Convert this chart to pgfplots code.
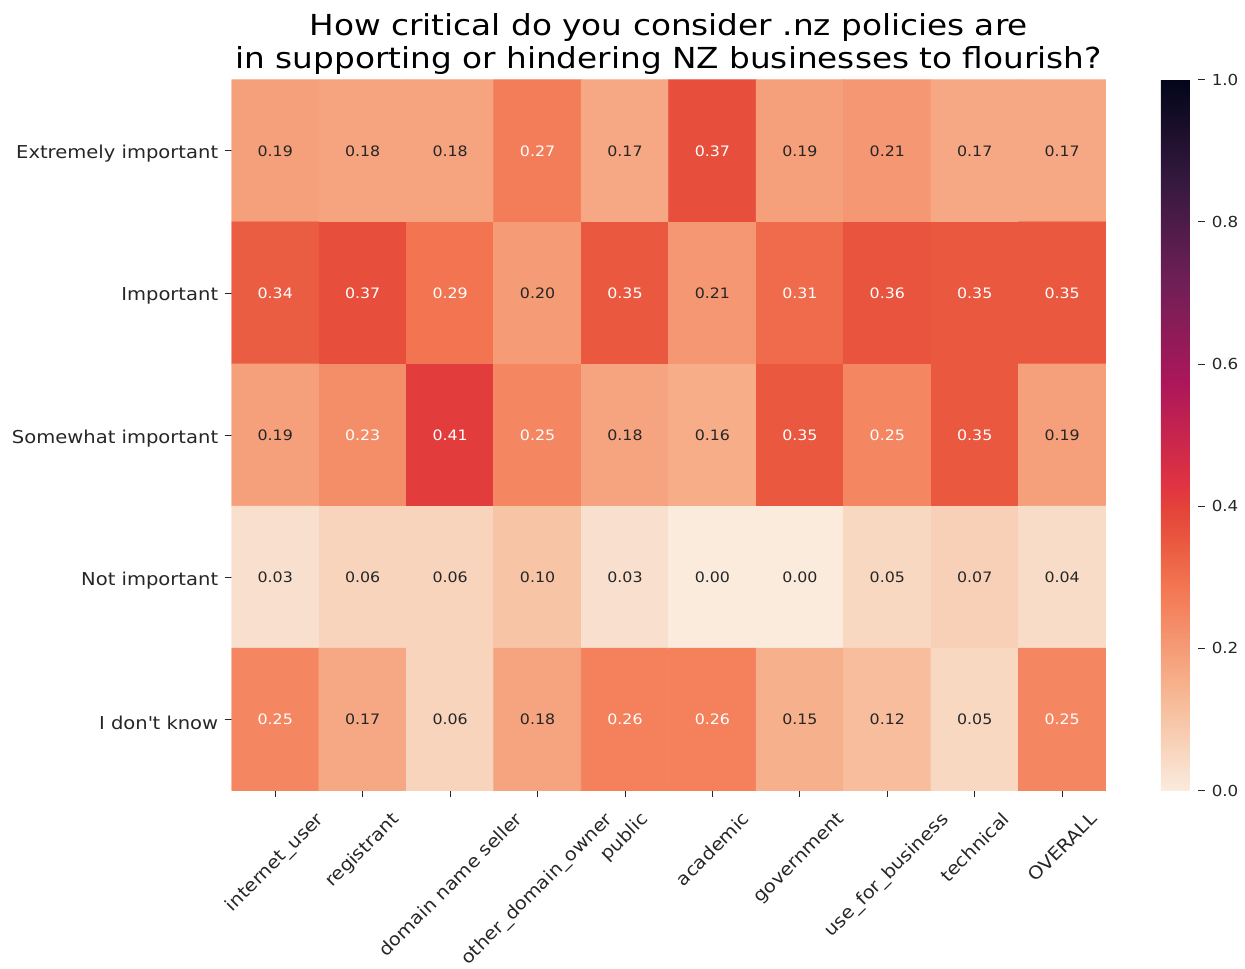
\documentclass[border=0pt]{standalone}
\usepackage{pgfplots}
\pgfplotsset{compat=1.18}
\usepackage{pgfplotstable}
\usepackage{graphicx}
\usepackage{fontspec}
\setmainfont{DejaVu Sans}[FakeStretch=1.1]
\newfontfamily\titlefamily{DejaVu Sans}[FakeStretch=1.13]
\definecolor{darktxt}{HTML}{262626}
\newcommand{\tickfont}{\fontsize{8.9}{10.7}\selectfont}
\newcommand{\cbfont}{\fontsize{7.6}{9.1}\selectfont}
\newcommand{\annfont}{\fontsize{7.2}{8.6}\selectfont}

% x = group (column), y = answer (row), v = share
\pgfplotstableread{
x y v
0 0 0.19
1 0 0.18
2 0 0.18
3 0 0.27
4 0 0.17
5 0 0.37
6 0 0.19
7 0 0.21
8 0 0.17
9 0 0.17
0 1 0.34
1 1 0.37
2 1 0.29
3 1 0.20
4 1 0.35
5 1 0.21
6 1 0.31
7 1 0.36
8 1 0.35
9 1 0.35
0 2 0.19
1 2 0.23
2 2 0.41
3 2 0.25
4 2 0.18
5 2 0.16
6 2 0.35
7 2 0.25
8 2 0.35
9 2 0.19
0 3 0.03
1 3 0.06
2 3 0.06
3 3 0.10
4 3 0.03
5 3 0.00
6 3 0.00
7 3 0.05
8 3 0.07
9 3 0.04
0 4 0.25
1 4 0.17
2 4 0.06
3 4 0.18
4 4 0.26
5 4 0.26
6 4 0.15
7 4 0.12
8 4 0.05
9 4 0.25
}\heat

\begin{document}
\begin{tikzpicture}
\begin{axis}[
  name=main,
  scale only axis, width=438pt, height=356pt,
  xmin=-0.5, xmax=9.5, ymin=-0.5, ymax=4.5,
  y dir=reverse,
  enlargelimits=false,
  axis line style={draw=none},
  tick align=outside,
  major tick length=3.5pt,
  tick style={color=darktxt, line width=0.5pt},
  xtick={0,...,9}, ytick={0,...,4},
  xtick pos=bottom, ytick pos=left,
  xticklabels={
    \rotatebox{45}{internet\_user},
    \rotatebox{45}{registrant},
    \rotatebox{45}{domain name seller},
    \rotatebox{45}{other\_domain\_owner},
    \rotatebox{45}{public},
    \rotatebox{45}{academic},
    \rotatebox{45}{government},
    \rotatebox{45}{use\_for\_business},
    \rotatebox{45}{technical},
    \rotatebox{45}{OVERALL}},
  yticklabels={Extremely important, Important, Somewhat important, Not important, I don\textquotesingle t know},
  xticklabel style={anchor=north, font=\tickfont, inner sep=0pt, yshift=-6.5pt, text=darktxt},
  yticklabel style={anchor=east, font=\tickfont, inner sep=0pt, xshift=-3pt, yshift=-1.5pt, text=darktxt},
  colormap={rocketr}{rgb255(0pt)=(250,235,221); rgb255(143pt)=(246,180,143); rgb255(286pt)=(243,118,81); rgb255(357pt)=(233,85,62); rgb255(400pt)=(227,66,57); rgb255(429pt)=(225,51,66); rgb255(571pt)=(173,23,89); rgb255(714pt)=(112,31,87); rgb255(857pt)=(53,25,62); rgb255(1000pt)=(3,5,26)},
  point meta min=0, point meta max=1,
  colorbar,
  colorbar style={
    at={(parent axis.north east)}, anchor=north west, xshift=19pt,
    scale only axis, width=18.5pt, height=356pt,
    axis line style={draw=none},
    ytick={0,0.2,0.4,0.6,0.8,1},
    ytick pos=right,
    tick align=outside, major tick length=3.5pt,
    tick style={color=darktxt, line width=0.5pt},
    yticklabel style={font=\cbfont, text=darktxt, /pgf/number format/.cd, fixed, fixed zerofill, precision=1, assume math mode=true},
  },
  title={How critical do you consider .nz policies are\\in supporting or hindering NZ businesses to flourish?},
  title style={font=\titlefamily\fontsize{14.5}{16.4}\selectfont, align=center, anchor=south, inner sep=0pt, at={(0.5,1)}, yshift=-3.5pt},
]
\addplot[matrix plot*, mesh/cols=10, mesh/rows=5, point meta=explicit] table[x=x, y=y, meta=v] {\heat};
\addplot[only marks, mark=none, point meta=\thisrow{v},
  restrict expr to domain={\thisrow{v}}{0.22:1},
  nodes near coords={\pgfmathprintnumber[fixed,fixed zerofill,precision=2,assume math mode=true]{\pgfplotspointmeta}},
  nodes near coords align=center,
  nodes near coords style={text=white, font=\annfont}] table[x=x, y=y] {\heat};
\addplot[only marks, mark=none, point meta=\thisrow{v},
  restrict expr to domain={\thisrow{v}}{0:0.22},
  nodes near coords={\pgfmathprintnumber[fixed,fixed zerofill,precision=2,assume math mode=true]{\pgfplotspointmeta}},
  nodes near coords align=center,
  nodes near coords style={text=darktxt, font=\annfont}] table[x=x, y=y] {\heat};
\end{axis}
\path (main.south west) ++(-116pt,-86pt) rectangle ++(622.5pt,482pt);
\end{tikzpicture}
\end{document}
